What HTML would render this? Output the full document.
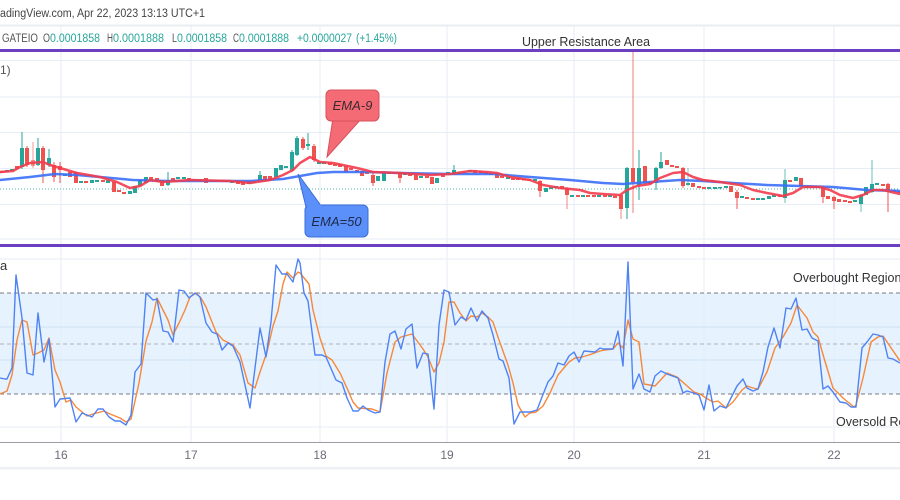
<!DOCTYPE html>
<html><head><meta charset="utf-8"><style>
html,body{margin:0;padding:0;background:#fff;width:900px;height:500px;overflow:hidden}
svg{display:block;font-family:"Liberation Sans",sans-serif}
</style></head><body>
<svg width="900" height="500" viewBox="0 0 900 500" xmlns="http://www.w3.org/2000/svg">
<rect x="0" y="0" width="900" height="500" fill="#fff"/>
<!-- header -->
<text x="0" y="17" font-size="11.5" fill="#444" textLength="205" lengthAdjust="spacingAndGlyphs">adingView.com, Apr 22, 2023 13:13 UTC+1</text>
<rect x="0" y="24.5" width="900" height="2" fill="#e9edf2"/>
<!-- osc fill -->
<rect x="0" y="293" width="900" height="101" fill="#e6f2fd"/>
<!-- grid -->
<g stroke="#e6edf5" stroke-width="1">
<line x1="61" y1="26" x2="61" y2="442"/><line x1="191" y1="26" x2="191" y2="442"/><line x1="320" y1="26" x2="320" y2="442"/><line x1="447" y1="26" x2="447" y2="442"/><line x1="574" y1="26" x2="574" y2="442"/><line x1="704" y1="26" x2="704" y2="442"/><line x1="834" y1="26" x2="834" y2="442"/>
<line x1="0" y1="60.5" x2="900" y2="60.5"/><line x1="0" y1="97" x2="900" y2="97"/><line x1="0" y1="132.5" x2="900" y2="132.5"/><line x1="0" y1="168.5" x2="900" y2="168.5"/><line x1="0" y1="204.5" x2="900" y2="204.5"/><line x1="0" y1="239" x2="900" y2="239"/>
<line x1="0" y1="259" x2="900" y2="259"/><line x1="0" y1="427" x2="900" y2="427"/>
</g>
<g stroke="#cfe2f3" stroke-width="1"><line x1="0" y1="327" x2="900" y2="327"/><line x1="0" y1="360" x2="900" y2="360"/></g>
<!-- OHLC -->
<g font-size="11.5">
<text x="2" y="42" fill="#555" textLength="36" lengthAdjust="spacingAndGlyphs">GATEIO</text>
<text x="43" y="42" fill="#555" textLength="7" lengthAdjust="spacingAndGlyphs">O</text>
<text x="50" y="42" fill="#26a69a" textLength="50" lengthAdjust="spacingAndGlyphs">0.0001858</text>
<text x="107" y="42" fill="#555" textLength="6" lengthAdjust="spacingAndGlyphs">H</text>
<text x="113" y="42" fill="#26a69a" textLength="51" lengthAdjust="spacingAndGlyphs">0.0001888</text>
<text x="172" y="42" fill="#555" textLength="5" lengthAdjust="spacingAndGlyphs">L</text>
<text x="177" y="42" fill="#26a69a" textLength="50" lengthAdjust="spacingAndGlyphs">0.0001858</text>
<text x="233" y="42" fill="#555" textLength="6" lengthAdjust="spacingAndGlyphs">C</text>
<text x="239" y="42" fill="#26a69a" textLength="50" lengthAdjust="spacingAndGlyphs">0.0001888</text>
<text x="297" y="42" fill="#26a69a" textLength="55" lengthAdjust="spacingAndGlyphs">+0.0000027</text>
<text x="356" y="42" fill="#26a69a" textLength="41" lengthAdjust="spacingAndGlyphs">(+1.45%)</text>
</g>
<text x="522" y="46" font-size="13" fill="#333" textLength="128" lengthAdjust="spacingAndGlyphs">Upper Resistance Area</text>
<text x="0" y="74" font-size="12" fill="#555">1)</text>
<!-- dotted price line -->
<line x1="0" y1="189" x2="900" y2="189" stroke="#26a69a" stroke-width="1" stroke-dasharray="1 2" opacity="0.8"/>
<!-- candles wicks -->
<g stroke-width="1">
<g stroke="#26a69a">
<line x1="22" y1="132" x2="22" y2="169"/><line x1="38" y1="138" x2="38" y2="166"/><line x1="49" y1="149" x2="49" y2="167"/><line x1="168" y1="172" x2="168" y2="186"/><line x1="260" y1="171" x2="260" y2="182"/><line x1="292" y1="150" x2="292" y2="172"/><line x1="297" y1="136" x2="297" y2="156"/><line x1="308" y1="133" x2="308" y2="150"/><line x1="454" y1="165" x2="454" y2="175"/><line x1="627" y1="167" x2="627" y2="219"/><line x1="639" y1="150" x2="639" y2="200"/><line x1="656" y1="167" x2="656" y2="190"/><line x1="661" y1="152" x2="661" y2="169"/><line x1="688" y1="168" x2="688" y2="186" opacity="0.6"/><line x1="785" y1="169" x2="785" y2="203" opacity="0.7"/><line x1="861" y1="194" x2="861" y2="212" opacity="0.7"/><line x1="872" y1="160" x2="872" y2="193" opacity="0.7"/>
</g>
<g stroke="#ef5350">
<line x1="27" y1="146" x2="27" y2="167"/><line x1="33" y1="142" x2="33" y2="168" opacity="0.6"/><line x1="43" y1="146" x2="43" y2="183"/><line x1="54" y1="162" x2="54" y2="182"/><line x1="60" y1="162" x2="60" y2="183"/><line x1="303" y1="137" x2="303" y2="150"/><line x1="314" y1="144" x2="314" y2="162"/><line x1="373" y1="173" x2="373" y2="186"/><line x1="400" y1="172" x2="400" y2="183"/><line x1="540" y1="180" x2="540" y2="197"/><line x1="567" y1="187" x2="567" y2="209" opacity="0.7"/><line x1="621" y1="194" x2="621" y2="219" opacity="0.7"/><line x1="633" y1="50" x2="633" y2="213" opacity="0.5" stroke-width="1.5"/><line x1="683" y1="167" x2="683" y2="188"/><line x1="737" y1="190" x2="737" y2="209"/><line x1="823" y1="186" x2="823" y2="203"/><line x1="834" y1="196" x2="834" y2="209"/><line x1="888" y1="183" x2="888" y2="212"/>
</g>
</g>
<!-- candle bodies -->
<g fill="#26a69a">
<rect x="5" y="170" width="4" height="2"/><rect x="10" y="169" width="4" height="2"/><rect x="20" y="148" width="4" height="19"/><rect x="36" y="148" width="4" height="17"/><rect x="47" y="158" width="4" height="7"/><rect x="63" y="174" width="4" height="2"/><rect x="79" y="181" width="4" height="2"/><rect x="90" y="180" width="4" height="3"/><rect x="95" y="180" width="4" height="2"/><rect x="106" y="180" width="4" height="3"/><rect x="128" y="191" width="4" height="3"/><rect x="133" y="186" width="4" height="7"/><rect x="138" y="180" width="4" height="6"/><rect x="144" y="177" width="4" height="6"/><rect x="166" y="180" width="4" height="5"/><rect x="176" y="177" width="4" height="2"/><rect x="182" y="177" width="4" height="2"/><rect x="193" y="179" width="4" height="2"/><rect x="209" y="180" width="4" height="1.5"/><rect x="230" y="181" width="4" height="2"/><rect x="247" y="181" width="4" height="3"/><rect x="258" y="175" width="4" height="6"/><rect x="274" y="168" width="4" height="9"/><rect x="279" y="165" width="4" height="5"/><rect x="284" y="166" width="4" height="2"/><rect x="290" y="152" width="4" height="18"/><rect x="295" y="138" width="4" height="17"/><rect x="306" y="144" width="4" height="2"/><rect x="317" y="162" width="4" height="2"/><rect x="322" y="162" width="4" height="2"/><rect x="376" y="176" width="4" height="5"/><rect x="382" y="172" width="4" height="9"/><rect x="387" y="172" width="4" height="2"/><rect x="403" y="173" width="4" height="2"/><rect x="419" y="176" width="4" height="2"/><rect x="435" y="178" width="4" height="5"/><rect x="446" y="172" width="4" height="2"/><rect x="452" y="170" width="4" height="4"/><rect x="457" y="172" width="4" height="1.5"/><rect x="462" y="172" width="4" height="1.5"/><rect x="468" y="170" width="4" height="2"/><rect x="506" y="177" width="4" height="2"/><rect x="533" y="179" width="4" height="2"/><rect x="544" y="188" width="4" height="4"/><rect x="549" y="187" width="4" height="2"/><rect x="554" y="186" width="4" height="2"/><rect x="570" y="195" width="4" height="2"/><rect x="581" y="195" width="4" height="2"/><rect x="597" y="195" width="4" height="2"/><rect x="608" y="195" width="4" height="2"/><rect x="625" y="168" width="4" height="40"/><rect x="637" y="168" width="4" height="17"/><rect x="654" y="168" width="4" height="15"/><rect x="659" y="162" width="4" height="6"/><rect x="686" y="183" width="4" height="2"/><rect x="707" y="187" width="4" height="2"/><rect x="713" y="187" width="4" height="2"/><rect x="718" y="187" width="4" height="1.5"/><rect x="724" y="186" width="4" height="2"/><rect x="740" y="196" width="4" height="2"/><rect x="756" y="198" width="4" height="2"/><rect x="761" y="198" width="4" height="2"/><rect x="767" y="196" width="4" height="3"/><rect x="772" y="195" width="4" height="2"/><rect x="783" y="180" width="4" height="18"/><rect x="794" y="177" width="4" height="4"/><rect x="805" y="186" width="4" height="2"/><rect x="853" y="200" width="4" height="2"/><rect x="859" y="195" width="4" height="9"/><rect x="864" y="187" width="4" height="8"/><rect x="870" y="184" width="4" height="8"/><rect x="875" y="183" width="4" height="2"/>
</g>
<g fill="#ef5350">
<rect x="0" y="171" width="4" height="2"/><rect x="15" y="166" width="4" height="3"/><rect x="25" y="148" width="4" height="17"/><rect x="31" y="160" width="4" height="6" opacity="0.6"/><rect x="41" y="148" width="4" height="22"/><rect x="52" y="165" width="4" height="12"/><rect x="58" y="166" width="4" height="4"/><rect x="68" y="172" width="4" height="5"/><rect x="74" y="172" width="4" height="11"/><rect x="84" y="181" width="4" height="2"/><rect x="101" y="180" width="4" height="2"/><rect x="112" y="182" width="4" height="10"/><rect x="117" y="190" width="4" height="2"/><rect x="122" y="192" width="4" height="2"/><rect x="149" y="177" width="4" height="3"/><rect x="155" y="178" width="4" height="3"/><rect x="160" y="180" width="4" height="6"/><rect x="171" y="178" width="4" height="3"/><rect x="187" y="178" width="4" height="2"/><rect x="198" y="179" width="4" height="2"/><rect x="204" y="178" width="4" height="5"/><rect x="214" y="180" width="4" height="1.5"/><rect x="220" y="180" width="4" height="2"/><rect x="225" y="180" width="4" height="2"/><rect x="236" y="181" width="4" height="3"/><rect x="241" y="182" width="4" height="3"/><rect x="252" y="181" width="4" height="2"/><rect x="263" y="176" width="4" height="4"/><rect x="268" y="176" width="4" height="3"/><rect x="301" y="139" width="4" height="9"/><rect x="312" y="146" width="4" height="14"/><rect x="328" y="162" width="4" height="3"/><rect x="333" y="164" width="4" height="2"/><rect x="338" y="164" width="4" height="3"/><rect x="344" y="166" width="4" height="6"/><rect x="349" y="168" width="4" height="2"/><rect x="355" y="170" width="4" height="2"/><rect x="360" y="171" width="4" height="5"/><rect x="365" y="172" width="4" height="2"/><rect x="371" y="175" width="4" height="8"/><rect x="392" y="172" width="4" height="2"/><rect x="398" y="173" width="4" height="5"/><rect x="408" y="174" width="4" height="2"/><rect x="414" y="175" width="4" height="5"/><rect x="425" y="176" width="4" height="2"/><rect x="430" y="177" width="4" height="7"/><rect x="441" y="174" width="4" height="3"/><rect x="473" y="170" width="4" height="3"/><rect x="479" y="171" width="4" height="2"/><rect x="484" y="172" width="4" height="2"/><rect x="489" y="173" width="4" height="2"/><rect x="495" y="174" width="4" height="4"/><rect x="500" y="176" width="4" height="2"/><rect x="511" y="178" width="4" height="2"/><rect x="516" y="178" width="4" height="2"/><rect x="522" y="179" width="4" height="1.5"/><rect x="527" y="179" width="4" height="1.5"/><rect x="538" y="181" width="4" height="10"/><rect x="560" y="186" width="4" height="3"/><rect x="565" y="188" width="4" height="7"/><rect x="576" y="195" width="4" height="2"/><rect x="586" y="195" width="4" height="2"/><rect x="592" y="195" width="4" height="2"/><rect x="603" y="195" width="4" height="2"/><rect x="613" y="196" width="4" height="2"/><rect x="619" y="195" width="4" height="14"/><rect x="631" y="168" width="4" height="14"/><rect x="643" y="166" width="4" height="17"/><rect x="648" y="182" width="4" height="2"/><rect x="665" y="160" width="4" height="5"/><rect x="670" y="165" width="4" height="2"/><rect x="675" y="166" width="4" height="2"/><rect x="681" y="168" width="4" height="18"/><rect x="691" y="183" width="4" height="4"/><rect x="697" y="186" width="4" height="2"/><rect x="702" y="187" width="4" height="2"/><rect x="729" y="186" width="4" height="6"/><rect x="735" y="192" width="4" height="6"/><rect x="745" y="197" width="4" height="2"/><rect x="751" y="198" width="4" height="2"/><rect x="778" y="195" width="4" height="2"/><rect x="788" y="180" width="4" height="2"/><rect x="799" y="178" width="4" height="8"/><rect x="810" y="186" width="4" height="2"/><rect x="815" y="186" width="4" height="2"/><rect x="821" y="187" width="4" height="10"/><rect x="826" y="196" width="4" height="3"/><rect x="832" y="197" width="4" height="4"/><rect x="837" y="199" width="4" height="3"/><rect x="843" y="200" width="4" height="2"/><rect x="848" y="201" width="4" height="2"/><rect x="881" y="184" width="4" height="2"/><rect x="886" y="184" width="4" height="6"/><rect x="892" y="190" width="4" height="2"/><rect x="897" y="191" width="4" height="2"/>
</g>
<!-- EMA 50 -->
<polyline fill="none" stroke="#3a6ff7" stroke-width="2.5" stroke-linejoin="round" stroke-linecap="round" opacity="0.9" points="0,180 30,177 55,174 77,175 100,177 133,180 167,181 200,181 250,181 283,179 300,176 317,173 333,172 367,172 400,173 450,174 493,174 530,177 570,180 603,183 623,184 650,182 680,180 703,181 733,183 767,185 800,186 833,187 867,190 900,191"/>
<!-- EMA 9 -->
<polyline fill="none" stroke="#f23c4c" stroke-width="2.5" stroke-linejoin="round" stroke-linecap="round" opacity="0.9" points="0,172 13,171 20,167 30,163 43,162 50,165 60,168 77,173 100,177 117,182 130,188 140,186 150,180 163,182 177,181 190,180 230,181 250,183 270,180 283,175 293,170 300,163 310,157 320,162 333,163 357,168 373,172 400,173 430,175 450,174 470,171 487,172 497,173 510,177 530,180 543,185 560,188 580,190 590,193 603,194 620,195 627,190 637,186 650,184 660,178 673,173 683,172 693,177 703,180 720,182 740,185 753,190 767,193 783,196 793,193 803,187 820,187 830,190 840,195 853,198 863,195 873,190 883,190 900,194"/>
<!-- callouts -->
<path d="M333,118 L362,118 L327,157 Z" fill="#f46b76" stroke="#d6505b" stroke-width="1"/>
<rect x="326" y="90" width="53" height="31" rx="5" fill="#f46b76" stroke="#d6505b" stroke-width="1"/>
<path d="M333,119 L361,119" stroke="#f46b76" stroke-width="3"/>
<text x="352.5" y="110" font-size="13" font-style="italic" fill="#3a2a2e" text-anchor="middle">EMA-9</text>
<path d="M298,174 L306,207 L322,207 Z" fill="#5b8ff9" stroke="#3a6fd8" stroke-width="1"/>
<rect x="305" y="205" width="63" height="32" rx="5" fill="#5b8ff9" stroke="#3a6fd8" stroke-width="1"/>
<path d="M307,206 L321,206" stroke="#5b8ff9" stroke-width="3"/>
<text x="336.5" y="226" font-size="13" font-style="italic" fill="#1e2a4a" text-anchor="middle">EMA=50</text>
<!-- purple lines -->
<rect x="0" y="49" width="900" height="3" fill="#6b3fc1"/>
<rect x="0" y="244" width="900" height="3" fill="#6b3fc1"/>
<!-- oscillator -->
<line x1="0" y1="293" x2="900" y2="293" stroke="#787b86" stroke-width="1" stroke-dasharray="4 3"/>
<line x1="0" y1="344" x2="900" y2="344" stroke="#b0b3ba" stroke-width="1" stroke-dasharray="4 3"/>
<line x1="0" y1="394" x2="900" y2="394" stroke="#787b86" stroke-width="1" stroke-dasharray="4 3"/>
<text x="0" y="270" font-size="13" fill="#333">a</text>
<text x="793" y="282" font-size="12.5" fill="#333">Overbought Region</text>
<text x="836" y="426" font-size="12.5" fill="#333">Oversold Region</text>
<polyline fill="none" stroke="#f7883a" stroke-width="1.4" stroke-linejoin="round" points="0,394 7,391 12,375 17,340 22,320 27,322 33,355 38,353 44,350 49,338 55,370 60,382 66,402 71,400 76,407 87,416 93,414 104,411 110,414 120,418 126,422 131,419 139,383 146,341 152,322 157,298 163,310 168,320 173,335 179,323 185,310 190,297 196,293 201,298 206,307 216,332 223,340 233,345 240,355 248,383 255,388 260,372 267,352 273,326 278,311 283,284 287,272 293,278 298,272 300,273 309,284 313,310 320,338 326,356 332,360 340,373 347,388 353,402 358,408 372,409 380,412 387,373 395,342 401,337 412,334 423,349 428,357 434,372 439,363 444,342 449,302 454,302 460,313 466,321 471,316 477,317 482,313 488,317 493,322 499,340 508,365 513,383 518,405 525,417 530,413 536,412 543,406 550,393 558,375 569,362 575,358 582,357 589,355 600,351 605,350 613,349 618,343 623,348 628,320 633,339 639,342 644,384 655,386 667,373 677,377 686,385 694,392 700,394 706,398 713,402 718,401 726,408 733,402 742,390 747,386 753,388 758,389 767,372 775,348 783,337 791,323 797,305 807,318 813,332 818,337 824,358 833,388 843,398 854,407 856,405 863,378 871,342 878,337 883,336 900,361"/>
<polyline fill="none" stroke="#4f83f5" stroke-width="1.4" stroke-linejoin="round" points="0,378 5,379 7,379 12,368 16,275 22,318 27,373 33,375 38,313 44,362 49,339 55,407 60,399 70,398 76,422 82,413 92,417 98,409 103,409 109,417 115,421 120,421 126,425 131,415 135,372 141,364 146,293 153,300 157,299 163,331 168,332 173,342 179,290 184,291 189,298 195,293 200,297 206,323 212,332 217,334 222,350 228,343 233,346 240,362 250,408 260,328 266,357 271,322 276,265 282,274 287,274 293,282 298,259 300,263 304,293 308,301 315,355 322,355 326,357 336,380 342,383 347,398 353,411 358,411 363,406 368,410 375,413 380,412 385,362 390,334 395,331 401,349 406,329 412,324 417,368 423,353 428,354 434,409 439,325 444,290 449,292 455,325 461,317 466,320 471,308 477,321 482,311 488,318 493,335 499,359 503,361 509,378 514,424 520,412 530,412 537,410 542,397 548,382 553,376 558,363 564,365 569,356 574,352 579,362 584,351 595,352 600,348 603,349 613,349 618,331 623,366 628,262 633,389 639,374 644,389 650,392 655,376 661,371 667,374 678,378 683,393 687,391 694,393 699,395 704,410 709,385 714,411 720,406 726,408 731,398 737,386 743,379 747,388 753,391 758,389 763,372 768,347 774,328 780,348 786,308 791,309 796,298 802,330 807,329 812,338 818,341 823,389 828,386 833,392 840,402 846,403 851,407 856,407 862,348 867,342 873,334 878,335 883,337 888,358 893,359 900,363"/>
<!-- time axis -->
<line x1="0" y1="442.5" x2="900" y2="442.5" stroke="#9a9ca3" stroke-width="1"/>
<g font-size="12" fill="#6a6d78" text-anchor="middle">
<text x="61" y="459">16</text><text x="191" y="459">17</text><text x="320" y="459">18</text><text x="447" y="459">19</text><text x="574" y="459">20</text><text x="704" y="459">21</text><text x="834" y="459">22</text>
</g>
<rect x="0" y="467" width="900" height="2.5" fill="#eef0f4"/>
</svg>
</body></html>
